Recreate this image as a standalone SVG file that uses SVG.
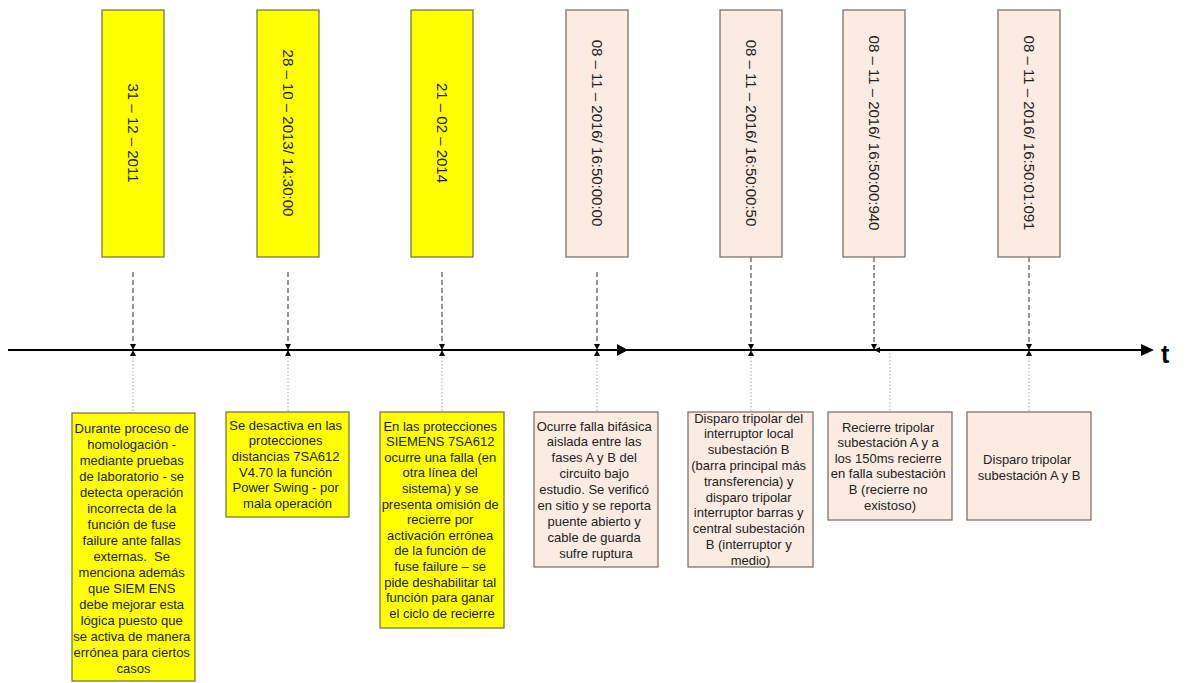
<svg xmlns="http://www.w3.org/2000/svg" width="1197" height="683" viewBox="0 0 1197 683">
  <defs>
    <style>
      .yel { fill: #ffff00; stroke: #6e6e3c; stroke-width: 1.2; }
      .pnk { fill: #fcebe0; stroke: #6f6a66; stroke-width: 1.2; }
      .date { font-family: "Liberation Sans", Arial, sans-serif; font-size: 15px; fill: #222; text-anchor: middle; }
      .desc { font-family: "Liberation Sans", Arial, sans-serif; font-size: 13px; fill: #222; text-anchor: middle; }
      .dash { stroke: #555; stroke-width: 1.2; stroke-dasharray: 5 3; fill: none; }
      .dot { stroke: #aaa; stroke-width: 1; stroke-dasharray: 1.5 2; fill: none; }
      .axis { stroke: #000; stroke-width: 2; fill: none; }
      .tip { fill: #000; }
    </style>
  </defs>
  <rect width="1197" height="683" fill="#ffffff"/>

  <!-- connectors: time axis, dashed drops from the dates, dotted links to the descriptions -->
  <g id="connectors">
    <line class="axis" x1="8" y1="350" x2="1144" y2="350"/>
    <polygon class="tip" points="1154,350 1141,344 1141,356"/>
    <polygon class="tip" points="628,350 617,344 617,356"/>
    <text x="1161" y="363" font-family="Liberation Sans, Arial, sans-serif" font-size="25" font-weight="bold" fill="#000">t</text>

    <line class="dash" x1="133" y1="272" x2="133" y2="345"/>
    <line class="dash" x1="288" y1="272" x2="288" y2="345"/>
    <line class="dash" x1="442" y1="272" x2="442" y2="345"/>
    <line class="dash" x1="597" y1="272" x2="597" y2="345"/>
    <line class="dash" x1="751" y1="257" x2="751" y2="345"/>
    <line class="dash" x1="874" y1="257" x2="874" y2="345"/>
    <line class="dash" x1="1029" y1="257" x2="1029" y2="345"/>

    <polygon class="tip" points="130,344 136,344 133,350"/>
    <polygon class="tip" points="130,356 136,356 133,350"/>
    <polygon class="tip" points="285,344 291,344 288,350"/>
    <polygon class="tip" points="285,356 291,356 288,350"/>
    <polygon class="tip" points="439,344 445,344 442,350"/>
    <polygon class="tip" points="439,356 445,356 442,350"/>
    <polygon class="tip" points="594,344 600,344 597,350"/>
    <polygon class="tip" points="594,356 600,356 597,350"/>
    <polygon class="tip" points="748,344 754,344 751,350"/>
    <polygon class="tip" points="748,356 754,356 751,350"/>
    <polygon class="tip" points="871,344 877,344 874,350"/>
    <polygon class="tip" points="880,347 880,353 874,350"/>
    <polygon class="tip" points="1026,344 1032,344 1029,350"/>
    <polygon class="tip" points="1026,356 1032,356 1029,350"/>

    <line class="dot" x1="133" y1="357" x2="133" y2="413"/>
    <line class="dot" x1="288" y1="357" x2="288" y2="412"/>
    <line class="dot" x1="442" y1="357" x2="442" y2="412"/>
    <line class="dot" x1="597" y1="357" x2="597" y2="412"/>
    <line class="dot" x1="751" y1="357" x2="751" y2="412"/>
    <line class="dot" x1="890" y1="353" x2="890" y2="412"/>
    <line class="dot" x1="1029" y1="357" x2="1029" y2="412"/>
  </g>

  <!-- date markers above the axis -->
  <g id="date1">
    <rect class="yel" x="102" y="10" width="62" height="247"/>
    <text class="date" transform="translate(133,133) rotate(90)" dy="0.35em">31 – 12 – 2011</text>
  </g>
  <g id="date2">
    <rect class="yel" x="257" y="10" width="62" height="247"/>
    <text class="date" transform="translate(288,133) rotate(90)" dy="0.35em">28 – 10 – 2013/ 14:30:00</text>
  </g>
  <g id="date3">
    <rect class="yel" x="411" y="10" width="62" height="247"/>
    <text class="date" transform="translate(442,133) rotate(90)" dy="0.35em">21 – 02 – 2014</text>
  </g>
  <g id="date4">
    <rect class="pnk" x="566" y="10" width="62" height="247"/>
    <text class="date" transform="translate(597,133) rotate(90)" dy="0.35em">08 – 11 – 2016/ 16:50:00:00</text>
  </g>
  <g id="date5">
    <rect class="pnk" x="720" y="10" width="62" height="247"/>
    <text class="date" transform="translate(751,133) rotate(90)" dy="0.35em">08 – 11 – 2016/ 16:50:00:50</text>
  </g>
  <g id="date6">
    <rect class="pnk" x="843" y="10" width="62" height="247"/>
    <text class="date" transform="translate(874,133) rotate(90)" dy="0.35em">08 – 11 – 2016/ 16:50:00:940</text>
  </g>
  <g id="date7">
    <rect class="pnk" x="998" y="10" width="62" height="247"/>
    <text class="date" transform="translate(1029,133) rotate(90)" dy="0.35em">08 – 11 – 2016/ 16:50:01:091</text>
  </g>

  <!-- event descriptions below the axis -->
  <g id="event1">
    <rect class="yel" x="72" y="413" width="123" height="268"/>
    <text class="desc" x="133.5" y="432.5">
      <tspan x="133.5">Durante proceso de</tspan>
      <tspan x="133.5" dy="16">homologación -</tspan>
      <tspan x="133.5" dy="16">mediante pruebas</tspan>
      <tspan x="133.5" dy="16">de laboratorio - se</tspan>
      <tspan x="133.5" dy="16">detecta operación</tspan>
      <tspan x="133.5" dy="16">incorrecta de la</tspan>
      <tspan x="133.5" dy="16">función de fuse</tspan>
      <tspan x="133.5" dy="16">failure ante fallas</tspan>
      <tspan x="133.5" dy="16">externas.&#160; Se</tspan>
      <tspan x="133.5" dy="16">menciona además</tspan>
      <tspan x="133.5" dy="16">que SIEM ENS</tspan>
      <tspan x="133.5" dy="16">debe mejorar esta</tspan>
      <tspan x="133.5" dy="16">lógica puesto que</tspan>
      <tspan x="133.5" dy="16">se activa de manera</tspan>
      <tspan x="133.5" dy="16">errónea para ciertos</tspan>
      <tspan x="133.5" dy="16">casos</tspan>
    </text>
  </g>
  <g id="event2">
    <rect class="yel" x="226" y="412" width="123" height="105"/>
    <text class="desc" x="287.5" y="429.5">
      <tspan x="287.5">Se desactiva en las</tspan>
      <tspan x="287.5" dy="15.7">protecciones</tspan>
      <tspan x="287.5" dy="15.7">distancias 7SA612</tspan>
      <tspan x="287.5" dy="15.7">V4.70 la función</tspan>
      <tspan x="287.5" dy="15.7">Power Swing - por</tspan>
      <tspan x="287.5" dy="15.7">mala operación</tspan>
    </text>
  </g>
  <g id="event3">
    <rect class="yel" x="380" y="412" width="124" height="216"/>
    <text class="desc" x="442" y="430.5">
      <tspan x="442">En las protecciones</tspan>
      <tspan x="442" dy="15.6">SIEMENS 7SA612</tspan>
      <tspan x="442" dy="15.6">ocurre una falla (en</tspan>
      <tspan x="442" dy="15.6">otra línea del</tspan>
      <tspan x="442" dy="15.6">sistema) y se</tspan>
      <tspan x="442" dy="15.6">presenta omisión de</tspan>
      <tspan x="442" dy="15.6">recierre por</tspan>
      <tspan x="442" dy="15.6">activación errónea</tspan>
      <tspan x="442" dy="15.6">de la función de</tspan>
      <tspan x="442" dy="15.6">fuse failure – se</tspan>
      <tspan x="442" dy="15.6">pide deshabilitar tal</tspan>
      <tspan x="442" dy="15.6">función para ganar</tspan>
      <tspan x="442" dy="15.6">el ciclo de recierre</tspan>
    </text>
  </g>
  <g id="event4">
    <rect class="pnk" x="534" y="412" width="124" height="155"/>
    <text class="desc" x="596" y="430.5">
      <tspan x="596">Ocurre falla bifásica</tspan>
      <tspan x="596" dy="15.9">aislada entre las</tspan>
      <tspan x="596" dy="15.9">fases A y B del</tspan>
      <tspan x="596" dy="15.9">circuito bajo</tspan>
      <tspan x="596" dy="15.9">estudio. Se verificó</tspan>
      <tspan x="596" dy="15.9">en sitio y se reporta</tspan>
      <tspan x="596" dy="15.9">puente abierto y</tspan>
      <tspan x="596" dy="15.9">cable de guarda</tspan>
      <tspan x="596" dy="15.9">sufre ruptura</tspan>
    </text>
  </g>
  <g id="event5">
    <rect class="pnk" x="688" y="412" width="125" height="155"/>
    <text class="desc" x="750.5" y="422.5">
      <tspan x="750.5">Disparo tripolar del</tspan>
      <tspan x="750.5" dy="15.8">interruptor local</tspan>
      <tspan x="750.5" dy="15.8">subestación B</tspan>
      <tspan x="750.5" dy="15.8">(barra principal más</tspan>
      <tspan x="750.5" dy="15.8">transferencia) y</tspan>
      <tspan x="750.5" dy="15.8">disparo tripolar</tspan>
      <tspan x="750.5" dy="15.8">interruptor barras y</tspan>
      <tspan x="750.5" dy="15.8">central subestación</tspan>
      <tspan x="750.5" dy="15.8">B (interruptor y</tspan>
      <tspan x="750.5" dy="15.8">medio)</tspan>
    </text>
  </g>
  <g id="event6">
    <rect class="pnk" x="828" y="412" width="124" height="108"/>
    <text class="desc" x="890" y="431.5">
      <tspan x="890">Recierre tripolar</tspan>
      <tspan x="890" dy="15.6">subestación A y a</tspan>
      <tspan x="890" dy="15.6">los 150ms recierre</tspan>
      <tspan x="890" dy="15.6">en falla subestación</tspan>
      <tspan x="890" dy="15.6">B (recierre no</tspan>
      <tspan x="890" dy="15.6">existoso)</tspan>
    </text>
  </g>
  <g id="event7">
    <rect class="pnk" x="967" y="412" width="124" height="108"/>
    <text class="desc" x="1029" y="464">
      <tspan x="1029">Disparo tripolar</tspan>
      <tspan x="1029" dy="15.6">subestación A y B</tspan>
    </text>
  </g>
</svg>
